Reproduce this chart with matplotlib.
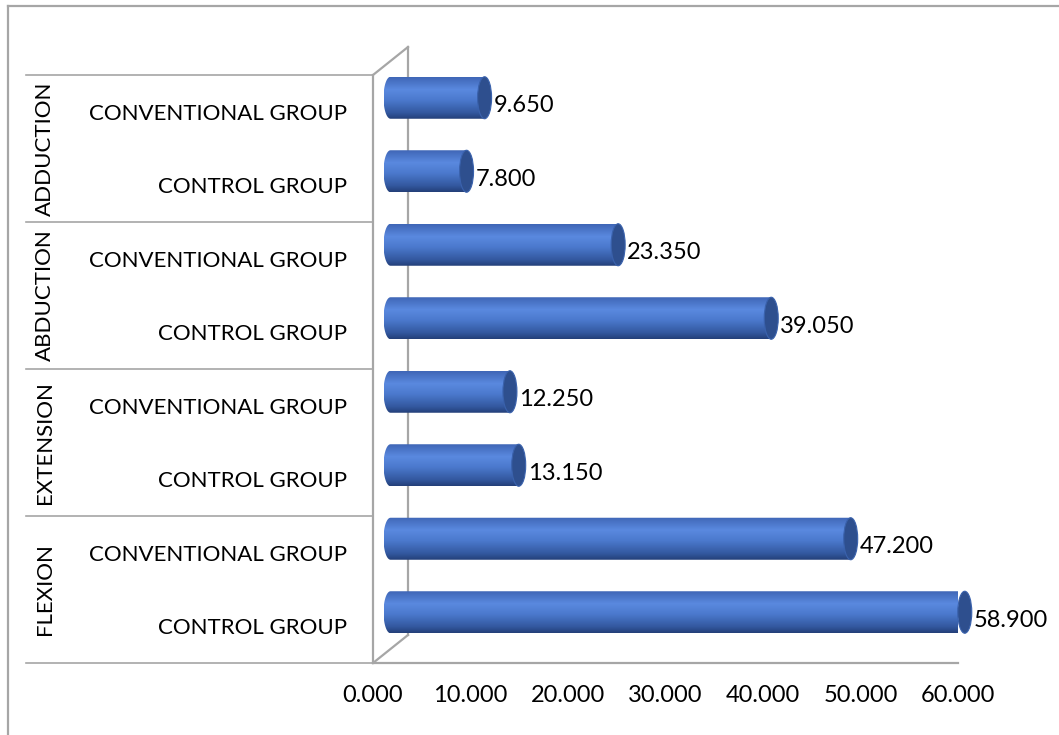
import numpy as np
import matplotlib
matplotlib.use("Agg")
import matplotlib.pyplot as plt
from matplotlib.colors import LinearSegmentedColormap
from matplotlib.patches import Ellipse, PathPatch
from matplotlib.path import Path
from matplotlib.lines import Line2D
import matplotlib.transforms as mtransforms

# data, bottom to top as drawn
groups = ["FLEXION", "EXTENSION", "ABDUCTION", "ADDUCTION"]
subgroups = ["CONTROL GROUP", "CONVENTIONAL GROUP"]
values = [58.900, 47.200, 13.150, 12.250, 39.050, 23.350, 7.800, 9.650]
xticks = [0, 10, 20, 30, 40, 50, 60]

W, H = 1059, 735
plt.rcParams["font.family"] = ["Lato", "DejaVu Sans"]
fig = plt.figure(figsize=(W / 100, H / 100), dpi=100)

# front plane of the 3d plot, in pixels
x0px, x1px = 373, 958
y0px, y1px = 663, 75
ax = fig.add_axes([x0px / W, 1 - y0px / H, (x1px - x0px) / W, (y0px - y1px) / H])
ax.set_xlim(0, 60)
ax.set_ylim(0, 8)
ax.set_axis_off()

pxx = (x1px - x0px) / 60.0   # px per x unit
pxy = (y0px - y1px) / 8.0    # px per y unit

grey = "#a6a6a6"
fs_txt = 16
fs_num = 17
# depth of the walls
wdx, wdy = 35 / pxx, 28 / pxy
# bars sit half way in
bdx, bdy = 17.5 / pxx, 14 / pxy
bar_h = 42 / pxy
cap_w = 14 / pxx

# walls
wall = dict(color=grey, lw=1.6, clip_on=False, zorder=1)
ax.plot([0, 0], [0, 8], **wall)
ax.plot([0, wdx], [8, 8 + wdy], **wall)
ax.plot([wdx, wdx], [wdy, 8 + wdy], **wall)
ax.plot([0, wdx], [0, wdy], **wall)
ax.plot([0, 60], [0, 0], **wall)

# cylinder colouring
cmap = LinearSegmentedColormap.from_list(
    "cyl", [(0.0, "#3f66b6"), (0.3, "#5a89df"), (0.55, "#4b79cd"), (0.85, "#33589f"), (1.0, "#233f78")])
grad = np.linspace(0, 1, 256).reshape(-1, 1)

for i, v in enumerate(values):
    yc = i + 0.5 + bdy
    xs = bdx
    xe = v + bdx
    yt, yb = yc + bar_h / 2, yc - bar_h / 2
    t = np.linspace(np.pi / 2, 3 * np.pi / 2, 40)
    ex = xs + cap_w / 2 * np.cos(t)
    ey = yc + bar_h / 2 * np.sin(t)
    verts = list(zip(ex, ey)) + [(xe, yb), (xe, yt), (ex[0], ey[0])]
    body = PathPatch(Path(verts), facecolor="none", edgecolor="none")
    ax.add_patch(body)
    im = ax.imshow(grad, cmap=cmap, aspect="auto", origin="upper",
                   extent=[xs - cap_w / 2, xe, yb, yt], zorder=2, clip_on=True)
    im.set_clip_path(body)
    ax.add_patch(Ellipse((xe, yc), cap_w, bar_h, facecolor="#2e4f8e",
                         edgecolor="#3a62ad", lw=0.8, zorder=3, clip_on=False))
    ax.text(xe + cap_w / 2 + 2 / pxx, i + 0.5 + 6 / pxy, f"{v:.3f}",
            ha="left", va="center", fontsize=fs_num, color="black", clip_on=False)

ax.set_xlim(0, 60)
ax.set_ylim(0, 8)

# category table on the left
btr = mtransforms.blended_transform_factory(fig.transFigure, ax.transData)
for k in range(len(groups) + 1):
    ax.add_line(Line2D([26 / W, x0px / W], [2 * k, 2 * k], transform=btr,
                       color=grey, lw=1.2, clip_on=False))
for i in range(len(values)):
    ax.text(347 / W, i + 0.5 - 2 / pxy, subgroups[i % 2], transform=btr,
            ha="right", va="center", fontsize=fs_txt, clip_on=False)
for g, name in enumerate(groups):
    ax.text(45 / W, 2 * g + 1, name, transform=btr, rotation=90,
            ha="center", va="center", fontsize=fs_txt, clip_on=False)

# x tick labels
for t in xticks:
    ax.text(t, -32 / pxy, f"{t:.3f}", ha="center", va="center",
            fontsize=fs_num, clip_on=False)

# chart border
fig.add_artist(Line2D([8 / W, 1], [1 - 6 / H, 1 - 6 / H], color=grey, lw=1.6))
fig.add_artist(Line2D([8 / W, 8 / W], [0, 1 - 6 / H], color=grey, lw=1.6))

fig.savefig("out.png", dpi=100)
